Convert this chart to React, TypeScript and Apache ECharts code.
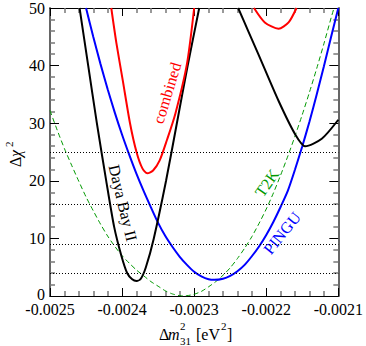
import React, { useEffect, useRef } from "react";
import * as echarts from "echarts";

const X_MIN = -0.0025;
const X_MAX = -0.0021;
const X_STEP = 0.0001;
const Y_MIN = 0;
const Y_MAX = 50;
const Y_STEP = 10;
const sigmaLevels = [4, 9, 16, 25];

const t2k: [number, number][] = [
  [-0.0025, 32.2], [-0.00249, 28.8], [-0.00248, 25.6], [-0.00247, 22.7],
  [-0.00246, 19.9], [-0.00245, 17.2], [-0.00244, 14.8], [-0.00243, 12.5],
  [-0.00242, 10.4], [-0.00241, 8.6], [-0.0024, 7.0], [-0.00239, 5.7],
  [-0.00238, 4.5], [-0.00237, 3.5], [-0.00236, 2.5], [-0.00235, 1.7],
  [-0.00234, 0.9], [-0.00233, 0.35], [-0.00232, 0.05], [-0.002315, 0.0],
  [-0.00231, 0.05], [-0.0023, 0.3], [-0.00229, 0.8], [-0.00228, 1.6],
  [-0.00227, 2.5], [-0.00226, 3.6], [-0.00225, 4.9], [-0.00224, 6.5],
  [-0.00223, 8.3], [-0.00222, 10.3], [-0.00221, 12.6], [-0.0022, 15.1],
  [-0.00219, 17.9], [-0.00218, 21.0], [-0.00217, 24.3], [-0.00216, 27.8],
  [-0.00215, 31.5], [-0.00214, 35.4], [-0.00213, 39.5], [-0.00212, 43.8],
  [-0.00211, 48.3], [-0.002106, 50],
];

const pingu: [number, number][] = [
  [-0.00245, 50], [-0.00244, 45.0], [-0.00243, 40.3], [-0.00242, 35.9],
  [-0.00241, 31.8], [-0.0024, 28.0], [-0.00239, 24.5], [-0.00238, 21.2],
  [-0.00237, 18.2], [-0.00236, 15.4], [-0.00235, 12.7], [-0.00234, 10.4],
  [-0.00233, 8.5], [-0.00232, 6.8], [-0.00231, 5.4], [-0.0023, 4.2],
  [-0.00229, 3.4], [-0.00228, 2.9], [-0.002272, 2.8], [-0.00226, 3.0],
  [-0.00225, 3.5], [-0.00224, 4.3], [-0.00223, 5.4], [-0.00222, 6.9],
  [-0.00221, 8.6], [-0.0022, 10.6], [-0.00219, 12.9], [-0.00218, 15.5],
  [-0.00217, 18.3], [-0.00216, 22.0], [-0.00215, 26.0], [-0.00214, 30.3],
  [-0.00213, 35.0], [-0.00212, 39.9], [-0.00211, 45.0], [-0.0021, 50],
];

const dayaBayLeft: [number, number][] = [
  [-0.002459, 50], [-0.002447, 40], [-0.002435, 30], [-0.002422, 20],
  [-0.002411, 12], [-0.002401, 7], [-0.002393, 4], [-0.002386, 2.9],
  [-0.00238, 2.6], [-0.002374, 3.0], [-0.002367, 5], [-0.002356, 10],
  [-0.002339, 20], [-0.002324, 30], [-0.002309, 40], [-0.002293, 50],
];

const dayaBayRight: [number, number][] = [
  [-0.002239, 50], [-0.002225, 46], [-0.002211, 42], [-0.002183, 33.9],
  [-0.00216, 28.1], [-0.002146, 26], [-0.002123, 27.3], [-0.0021, 30.6],
];

const combinedLeft: [number, number][] = [
  [-0.002415, 50], [-0.002408, 44], [-0.002399, 37.4], [-0.002389, 30],
  [-0.00238, 25], [-0.002372, 22.2], [-0.002365, 21.3], [-0.002357, 21.8],
  [-0.002348, 23.5], [-0.002338, 27], [-0.002326, 31.7], [-0.00231, 40.3],
  [-0.0023, 50],
];

const combinedRight: [number, number][] = [
  [-0.002217, 50], [-0.002202, 47.5], [-0.002183, 46.4], [-0.002169, 47.5],
  [-0.002158, 50],
];

const FONT = "'Liberation Serif', 'DejaVu Serif', serif";
const RED = "#ff0000";
const BLUE = "#0000ff";
const BLACK = "#000000";
const GREEN = "#009900";

function curve(name: string, data: [number, number][], color: string, extra: any = {}) {
  return {
    name,
    type: "line",
    data,
    symbol: "none",
    showSymbol: false,
    smooth: 0.25,
    clip: true,
    silent: true,
    lineStyle: { color, width: 2 },
    ...extra,
  };
}

function axisX(position: "bottom" | "top", showLabel: boolean) {
  return {
    type: "value",
    position,
    min: X_MIN,
    max: X_MAX,
    interval: X_STEP,
    splitLine: { show: false },
    axisLine: { show: true, onZero: false, lineStyle: { color: "#000", width: 1 } },
    axisTick: { show: true, inside: true, length: 8, lineStyle: { color: "#000", width: 1 } },
    minorTick: { show: true, splitNumber: 5, length: 5, lineStyle: { color: "#777", width: 1.5 } },
    axisLabel: {
      show: showLabel,
      margin: 6,
      lineHeight: 14,
      fontFamily: FONT,
      fontSize: 16,
      color: "#000",
      formatter: (v: number) => v.toFixed(4),
    },
  };
}

function axisY(position: "left" | "right", showLabel: boolean) {
  return {
    type: "value",
    position,
    min: Y_MIN,
    max: Y_MAX,
    interval: Y_STEP,
    splitLine: { show: false },
    axisLine: { show: true, onZero: false, lineStyle: { color: "#666", width: 2 } },
    axisTick: { show: true, inside: true, length: 9, lineStyle: { color: "#000", width: 1 } },
    minorTick: { show: true, splitNumber: 5, length: 5, lineStyle: { color: "#777", width: 1.5 } },
    axisLabel: {
      show: showLabel,
      margin: 5,
      lineHeight: 10,
      fontFamily: FONT,
      fontSize: 16,
      color: "#000",
      formatter: (v: number) => (v === 0 ? "{z|0}" : String(v)),
      rich: {
        z: { fontFamily: FONT, fontSize: 16, color: "#000", lineHeight: 10, padding: [0, 0, 3, 0] },
      },
    },
  };
}

function label(text: string, x: number, y: number, deg: number, color: string) {
  return {
    type: "text",
    x,
    y,
    rotation: (deg * Math.PI) / 180,
    silent: true,
    style: {
      text,
      fill: color,
      font: `16px ${FONT}`,
      align: "center",
      verticalAlign: "middle",
    },
  };
}

function txt(text: string, x: number, y: number, size: number, italic = false, align = "left") {
  return {
    type: "text",
    x,
    y,
    silent: true,
    style: {
      text,
      fill: "#000",
      font: `${italic ? "italic " : ""}${size}px ${FONT}`,
      align,
      verticalAlign: "middle",
    },
  };
}

export default function App() {
  const ref = useRef<HTMLDivElement>(null);

  useEffect(() => {
    document.body.style.margin = "0";
    if (!ref.current) return;
    const chart = echarts.init(ref.current, null, { renderer: "svg" });
    chart.setOption({
      animation: false,
      backgroundColor: "#ffffff",
      grid: { left: 50, right: 26, top: 7, bottom: 50, containLabel: false },
      xAxis: [axisX("bottom", true), axisX("top", false)],
      yAxis: [axisY("left", true), axisY("right", false)],
      series: [
        {
          ...curve("T2K", t2k, GREEN, {}),
          lineStyle: { color: GREEN, width: 1, type: [5, 3] },
          markLine: {
            silent: true,
            symbol: ["none", "none"],
            label: { show: false },
            lineStyle: { color: "#000", width: 1, type: [1, 2] },
            data: sigmaLevels.map((v) => ({ yAxis: v })),
          },
        },
        curve("PINGU", pingu, BLUE),
        curve("Daya Bay II (left)", dayaBayLeft, BLACK),
        curve("Daya Bay II (right)", dayaBayRight, BLACK),
        curve("combined (left)", combinedLeft, RED),
        curve("combined (right)", combinedRight, RED),
      ],
      graphic: [
        label("combined", 167, 93, 73, RED),
        label("Daya Bay II", 123, 203, -76.5, BLACK),
        label("T2K", 267, 183, 55, GREEN),
        label("PINGU", 282, 233, 51, BLUE),
        // x-axis title: Δm²₃₁ [eV²]
        txt("Δ", 159, 334, 16),
        txt("m", 168, 334, 16, true),
        txt("2", 180, 326, 11),
        txt("31", 180, 341, 11),
        txt("[eV", 196, 334, 16),
        txt("2", 221, 326, 11),
        txt("]", 227, 334, 16),
        // y-axis title: Δχ²
        {
          type: "group",
          x: 15,
          y: 155,
          rotation: Math.PI / 2,
          silent: true,
          children: [
            txt("Δ", -12, 0, 16),
            txt("χ", -2, 0, 16, true),
            txt("2", 8, -6, 11),
          ],
        },
      ],
    });
    return () => chart.dispose();
  }, []);

  return <div ref={ref} style={{ width: 366, height: 346 }} />;
}
